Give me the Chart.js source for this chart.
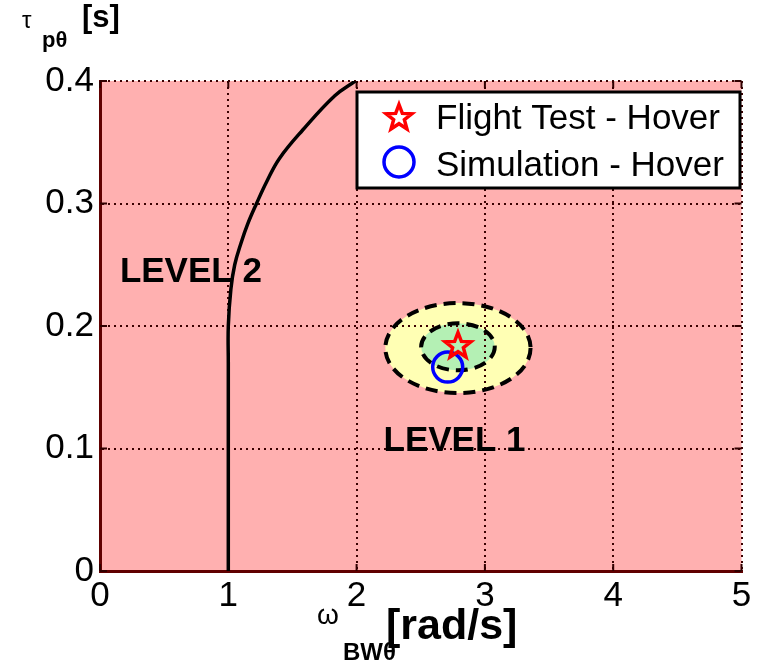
<!DOCTYPE html>
<html>
<head>
<meta charset="utf-8">
<script src="https://cdn.jsdelivr.net/npm/chart.js@4.4.1/dist/chart.umd.min.js"></script>
<style>
  html, body { margin: 0; padding: 0; background: #fff; }
  #chart { display: block; }
</style>
</head>
<body>
<canvas id="chart" width="760" height="662"></canvas>
<script>
// Level 1 / Level 2 boundary
const boundaryW = [1.0, 1.0, 1.0, 1.02, 1.05, 1.1, 1.15, 1.22, 1.3, 1.4, 1.58, 1.83, 1.99];
const boundaryTau = [0, 0.17, 0.2, 0.23, 0.25, 0.268, 0.283, 0.3, 0.318, 0.337, 0.36, 0.388, 0.4];

const flightW = [2.79];
const flightTau = [0.1845];
const simW = [2.71];
const simTau = [0.1665];

// centre w, centre tau, half width, half height
const outerEllipse = [2.79, 0.182, 0.566, 0.0367];
const innerEllipse = [2.79, 0.183, 0.287, 0.0192];

const xTicks = [0, 1, 2, 3, 4, 5];
const yTicks = [0, 0.1, 0.2, 0.3, 0.4];
const yTickLabels = ['0', '0.1', '0.2', '0.3', '0.4'];
const legendLabels = ['Flight Test - Hover', 'Simulation - Hover'];

const FONT = '"Liberation Sans", Arial, sans-serif';

function makeStar(size, lw, color) {
    const c = document.createElement('canvas');
    c.width = size;
    c.height = size;
    const g = c.getContext('2d');
    const R = size / 2 - lw - 1, r = R * 0.42;
    g.beginPath();
    for (let i = 0; i < 10; i++) {
        const a = -Math.PI / 2 + i * Math.PI / 5;
        const rr = i % 2 ? r : R;
        g.lineTo(size / 2 + rr * Math.cos(a), size / 2 + rr * Math.sin(a) + 1);
    }
    g.closePath();
    g.lineWidth = lw;
    g.strokeStyle = color;
    g.stroke();
    return c;
}
const starImg = makeStar(36, 3.5, '#ff0000');

function ellipsePath(ctx, x, y, e) {
    const cx = x.getPixelForValue(e[0]), cy = y.getPixelForValue(e[1]);
    const rx = x.getPixelForValue(e[0] + e[2]) - cx;
    const ry = cy - y.getPixelForValue(e[1] + e[3]);
    ctx.beginPath();
    ctx.ellipse(cx, cy, rx, ry, 0, 0, 2 * Math.PI);
}

const regionPlugin = {
    id: 'regions',
    beforeDraw(chart) {
        const {ctx, chartArea: a, scales: {x, y}} = chart;
        ctx.save();
        ctx.fillStyle = '#ffb0b0';
        ctx.fillRect(a.left, a.top, a.right - a.left, a.bottom - a.top);
        ellipsePath(ctx, x, y, outerEllipse);
        ctx.fillStyle = '#ffffb4';
        ctx.fill();
        ellipsePath(ctx, x, y, innerEllipse);
        ctx.fillStyle = '#b4f0b4';
        ctx.fill();
        ctx.restore();
    },
    beforeDatasetsDraw(chart) {
        const {ctx, chartArea: a, scales: {x, y}} = chart;
        ctx.save();
        ctx.strokeStyle = '#000';
        ctx.lineWidth = 4;
        ctx.setLineDash([12, 7]);
        ellipsePath(ctx, x, y, outerEllipse);
        ctx.stroke();
        ellipsePath(ctx, x, y, innerEllipse);
        ctx.stroke();
        ctx.setLineDash([]);
        // inward tick marks
        ctx.strokeStyle = '#300000';
        ctx.lineWidth = 2;
        ctx.beginPath();
        xTicks.forEach(v => {
            const px = x.getPixelForValue(v);
            ctx.moveTo(px, a.bottom); ctx.lineTo(px, a.bottom - 7);
            ctx.moveTo(px, a.top); ctx.lineTo(px, a.top + 7);
        });
        yTicks.forEach(v => {
            const py = y.getPixelForValue(v);
            ctx.moveTo(a.left, py); ctx.lineTo(a.left + 7, py);
            ctx.moveTo(a.right, py); ctx.lineTo(a.right - 7, py);
        });
        ctx.stroke();
        ctx.restore();
    },
    afterDraw(chart) {
        const {ctx, scales: {x, y}} = chart;
        ctx.save();
        ctx.fillStyle = '#000';
        ctx.textAlign = 'left';
        ctx.textBaseline = 'alphabetic';

        ctx.font = 'bold 35px ' + FONT;
        ctx.fillText('LEVEL 2', x.getPixelForValue(0.155), y.getPixelForValue(0.236));
        ctx.fillText('LEVEL 1', x.getPixelForValue(2.21), y.getPixelForValue(0.098));

        // legend box
        const bx = 357, by = 92, bw = 383, bh = 96;
        ctx.fillStyle = '#fff';
        ctx.fillRect(bx, by, bw, bh);
        ctx.strokeStyle = '#000';
        ctx.lineWidth = 3;
        ctx.strokeRect(bx, by, bw, bh);
        ctx.drawImage(starImg, 399 - starImg.width / 2, 117 - starImg.height / 2);
        ctx.strokeStyle = '#0000ff';
        ctx.lineWidth = 3.5;
        ctx.beginPath();
        ctx.arc(399, 162, 15, 0, 2 * Math.PI);
        ctx.stroke();
        ctx.fillStyle = '#000';
        ctx.font = '35px ' + FONT;
        ctx.fillText(legendLabels[0], 436, 129);
        ctx.fillText(legendLabels[1], 436, 176);

        // y axis title
        ctx.font = '24px ' + FONT;
        ctx.fillText('\u03c4', 22, 28);
        ctx.font = 'bold 22px ' + FONT;
        ctx.fillText('p\u03b8', 42, 47);
        ctx.font = 'bold 31px ' + FONT;
        ctx.fillText('[s]', 82, 27);

        // x axis title
        ctx.font = '28px ' + FONT;
        ctx.fillText('\u03c9', 317, 624);
        ctx.font = 'bold 24px ' + FONT;
        ctx.fillText('BW\u03b8', 343, 660);
        ctx.font = 'bold 43px ' + FONT;
        ctx.fillText('[rad/s]', 386, 639);
        ctx.restore();
    }
};

const toPoints = (xs, ys) => xs.map((v, i) => ({x: v, y: ys[i]}));

new Chart(document.getElementById('chart'), {
    type: 'scatter',
    data: {
        datasets: [
            {
                label: 'boundary',
                data: toPoints(boundaryW, boundaryTau),
                showLine: true,
                borderColor: '#000',
                borderWidth: 3.5,
                pointRadius: 0,
                tension: 0.4
            },
            {
                label: legendLabels[0],
                data: toPoints(flightW, flightTau),
                pointStyle: starImg,
                pointRadius: 15
            },
            {
                label: legendLabels[1],
                data: toPoints(simW, simTau),
                pointStyle: 'circle',
                pointRadius: 15,
                borderColor: '#0000ff',
                borderWidth: 3.5,
                backgroundColor: 'rgba(0,0,0,0)'
            }
        ]
    },
    options: {
        responsive: false,
        animation: false,
        devicePixelRatio: 1,
        layout: {padding: {top: 81, right: 14, left: 0, bottom: 0}},
        plugins: {legend: {display: false}, tooltip: {enabled: false}},
        scales: {
            x: {
                type: 'linear',
                min: 0,
                max: 5,
                afterBuildTicks: s => { s.ticks = xTicks.map(v => ({value: v})); },
                afterFit: s => { s.height = 91; },
                ticks: {
                    font: {size: 35, family: FONT},
                    color: '#000',
                    padding: 4,
                    callback: v => String(v)
                },
                grid: {color: '#3a0000', lineWidth: 2, drawTicks: false},
                border: {color: '#600000', width: 3, dash: [2, 4]}
            },
            y: {
                type: 'linear',
                min: 0,
                max: 0.4,
                afterBuildTicks: s => { s.ticks = yTicks.map(v => ({value: v})); },
                afterFit: s => { s.width = 100; },
                ticks: {
                    font: {size: 35, family: FONT},
                    color: '#000',
                    padding: 6,
                    callback: v => yTickLabels[yTicks.indexOf(v)]
                },
                grid: {color: '#3a0000', lineWidth: 2, drawTicks: false},
                border: {color: '#600000', width: 3, dash: [2, 4]}
            }
        }
    },
    plugins: [regionPlugin]
});
</script>
</body>
</html>
